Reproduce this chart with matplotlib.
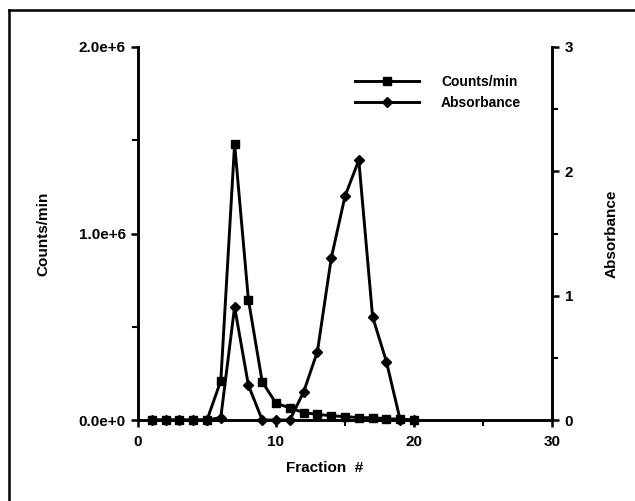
import matplotlib
matplotlib.use("Agg")
import matplotlib.pyplot as plt
from matplotlib.ticker import FixedLocator, FuncFormatter
from matplotlib.lines import Line2D

plt.rcParams['font.family'] = ['Liberation Sans', 'DejaVu Sans']
plt.rcParams['font.weight'] = 'bold'

fraction = list(range(1, 21))
counts = [0, 0, 0, 0, 0, 0.21e6, 1.48e6, 0.645e6, 0.205e6, 0.09e6, 0.065e6,
          0.04e6, 0.03e6, 0.023e6, 0.018e6, 0.013e6, 0.012e6, 0.007e6, 0.004e6, 0.0]
absorbance = [0, 0, 0, 0, 0, 0.02, 0.91, 0.28, 0, 0, 0, 0.225, 0.55, 1.30,
              1.80, 2.09, 0.83, 0.47, 0, 0]
x_ticks = [0, 10, 20, 30]
left_ticks = [0, 1e6, 2e6]
left_labels = ["0.0e+0", "1.0e+6", "2.0e+6"]
right_ticks = [0, 1, 2, 3]

W, H = 635, 501
fig = plt.figure(figsize=(W / 100, H / 100), dpi=100)
# figure frame: left and top edges only
fig.add_artist(Line2D([9 / W, 9 / W], [0, 1 - 10 / H], transform=fig.transFigure, color='black', lw=1.8))
fig.add_artist(Line2D([9 / W, 1], [1 - 10 / H, 1 - 10 / H], transform=fig.transFigure, color='black', lw=1.8))

L, R, T, B = 138, 552, 47, 420
ax = fig.add_axes([L / W, 1 - B / H, (R - L) / W, (B - T) / H])
ax2 = ax.twinx()

lw = 2.1
ax.plot(fraction, counts, color='black', lw=lw, marker='s', ms=6, clip_on=False, zorder=3)
ax2.plot(fraction, absorbance, color='black', lw=lw, marker='D', ms=5.5, clip_on=False, zorder=3)

ax.set_xlim(0, 30)
ax.set_ylim(0, 2e6)
ax2.set_ylim(0, 3)

for a in (ax, ax2):
    a.spines['top'].set_visible(False)
    for s in ('left', 'right', 'bottom'):
        a.spines[s].set_linewidth(2.1)
ax.spines['right'].set_visible(False)
ax2.spines['left'].set_visible(False)
ax2.spines['bottom'].set_visible(False)

ax.xaxis.set_major_locator(FixedLocator(x_ticks))
ax.xaxis.set_minor_locator(FixedLocator([5, 15, 25]))
ax.yaxis.set_major_locator(FixedLocator(left_ticks))
ax.yaxis.set_minor_locator(FixedLocator([0.5e6, 1.5e6]))
ax.yaxis.set_major_formatter(FuncFormatter(lambda v, p: left_labels[left_ticks.index(v)] if v in left_ticks else ""))
ax2.yaxis.set_major_locator(FixedLocator(right_ticks))
ax2.yaxis.set_minor_locator(FixedLocator([0.5, 1.5, 2.5]))
ax2.yaxis.set_major_formatter(FuncFormatter(lambda v, p: f"{int(v)}"))

fs = 11
ax.tick_params(axis='both', which='major', length=5, width=1.8, labelsize=fs, direction='out')
ax.tick_params(axis='both', which='minor', length=4, width=1.5, direction='out')
ax.tick_params(axis='y', pad=4)
ax.tick_params(axis='x', pad=6)
ax2.tick_params(axis='y', which='major', length=5, width=1.8, labelsize=fs, pad=4)
ax2.tick_params(axis='y', which='minor', length=4, width=1.5)
for lab in ax.get_xticklabels() + ax.get_yticklabels() + ax2.get_yticklabels():
    lab.set_fontweight('bold')

ax.set_ylabel("Counts/min", fontsize=fs, fontweight='bold')
ax.yaxis.set_label_coords((50 - L) / (R - L), 0.5)
ax2.set_ylabel("Absorbance", fontsize=fs, fontweight='bold', rotation=90)
ax2.yaxis.set_label_coords((605 - L) / (R - L), 0.5)
ax.set_xlabel("Fraction  #", fontsize=fs, fontweight='bold')
ax.xaxis.set_label_coords((325 - L) / (R - L), -(468 - B) / (B - T))
ax.xaxis.label.set_va('center')

handles = [Line2D([], [], color='black', lw=lw, marker='s', ms=6),
           Line2D([], [], color='black', lw=lw, marker='D', ms=5.5)]
leg = ax2.legend(handles, ["Counts/min", "Absorbance"], frameon=False, fontsize=10,
                 loc='upper left', bbox_to_anchor=((355 - L) / (R - L), 1 - (75 - T) / (B - T)),
                 borderpad=0, borderaxespad=0, handlelength=4.6, handletextpad=1.6,
                 labelspacing=0.5, numpoints=1)
for t in leg.get_texts():
    t.set_fontweight('bold')

fig.savefig("out.png", dpi=100, facecolor='white')
